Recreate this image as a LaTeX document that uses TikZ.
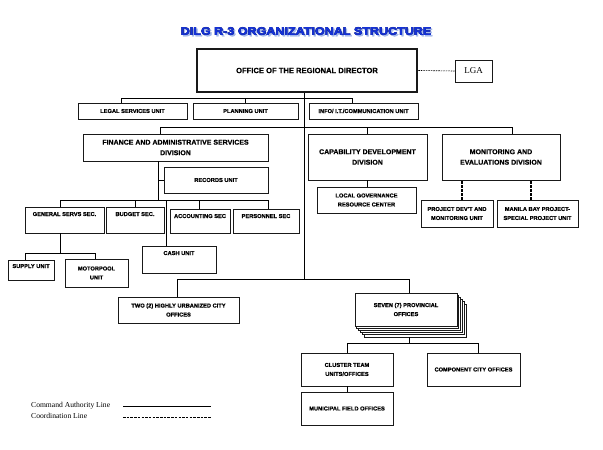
\documentclass[tikz,border=0pt]{standalone}
\usepackage{fontspec}
\usepackage{graphicx}
\setmainfont{Liberation Serif}
\setsansfont{Liberation Sans}
\newfontfamily\heavyfont{Liberation Sans Bold}[FakeBold=0.7]
\newfontfamily\ttlinner{Liberation Sans Bold}[FakeBold=1.5]
\newfontfamily\ttlouter{Liberation Sans Bold}[FakeBold=3.2]
\usetikzlibrary{positioning,calc}
\definecolor{ttlblue}{RGB}{20,50,215}
\definecolor{ttlnavy}{RGB}{15,20,90}
\definecolor{ttlshade}{RGB}{165,185,235}

\begin{document}
\begin{tikzpicture}[x=1pt, y=-1pt,
    unit/.style={rectangle, draw=black!90, line width=0.7pt, inner sep=0pt, align=center, font=\heavyfont\fontsize{5.7}{9}\selectfont},
    div/.style={unit, font=\heavyfont\fontsize{7}{10.5}\selectfont},
    topunit/.style={unit, text height=#1},
    cmdline/.style={line width=0.7pt},
    coordline/.style={line width=0.7pt, dash pattern=on 2.5pt off 1.2pt}]

    \useasboundingbox (0,0) rectangle (603,450);

    % title
    \node (ttlshadow) [text=ttlshade, font=\ttlouter\fontsize{11}{13}\selectfont] at (307.5,32.5) {\scalebox{1.14}[1]{DILG R-3 ORGANIZATIONAL STRUCTURE}};
    \node (ttledge) [text=ttlnavy, font=\ttlouter\fontsize{11}{13}\selectfont] at (306,31) {\scalebox{1.14}[1]{DILG R-3 ORGANIZATIONAL STRUCTURE}};
    \node (ttl) [text=ttlblue, font=\ttlinner\fontsize{11}{13}\selectfont] at (306,31) {\scalebox{1.14}[1]{DILG R-3 ORGANIZATIONAL STRUCTURE}};

    \node (ord) [unit, line width=2.5pt, minimum width=220, minimum height=43, font=\heavyfont\fontsize{7.6}{9}\selectfont] at (307,70.5) {OFFICE OF THE REGIONAL DIRECTOR};
    \node (lga) [rectangle, draw=black!90, line width=0.6pt, minimum width=37, minimum height=22, inner sep=0pt, font=\fontsize{9}{10}\selectfont] at (473.5,71) {LGA};
    \draw [dash pattern=on 1.5pt off 1pt, line width=0.6pt] (ord.east) -- (lga.west);

    \node (legal) [unit, minimum width=109, minimum height=16] at (132.5,111) {LEGAL SERVICES UNIT};
    \node (plan) [unit, minimum width=105, minimum height=16] at (245.5,111) {PLANNING UNIT};
    \node (info) [unit, minimum width=109, minimum height=16] at (363.5,111) {INFO/ I.T./COMMUNICATION UNIT};

    \coordinate (b1l) at (121,98);
    \coordinate (b1r) at (352,98);
    \draw [cmdline] (b1l) -- (b1r);
    \draw [cmdline] (b1l) -- (b1l |- legal.north);
    \draw [cmdline] (plan.north) -- (plan.north |- b1l);
    \draw [cmdline] (b1r) -- (b1r |- info.north);

    \coordinate (spine) at (304,279);
    \draw [cmdline] (ord.south -| spine) -- (spine);

    % divisions
    \node (fin) [div, minimum width=185, minimum height=27] at (175.5,147.5) {FINANCE AND ADMINISTRATIVE SERVICES\\DIVISION};
    \node (cap) [div, minimum width=119, minimum height=46] at (367.5,157) {CAPABILITY DEVELOPMENT\\DIVISION};
    \node (mon) [div, minimum width=118, minimum height=46] at (501,157) {MONITORING AND\\EVALUATIONS DIVISION};

    \coordinate (b2l) at (160,127);
    \coordinate (b2r) at (512,127);
    \draw [cmdline] (b2l) -- (b2r);
    \draw [cmdline] (b2l) -- (b2l |- fin.north);
    \draw [cmdline] (cap.north) -- (cap.north |- b2l);
    \draw [cmdline] (b2r) -- (b2r |- mon.north);

    \node (lgrc) [unit, minimum width=99, minimum height=26] at (366.5,200) {LOCAL GOVERNANCE\\RESOURCE CENTER};
    \draw [cmdline] (cap.south) -- (cap.south |- lgrc.north);

    \node (pdev) [unit, minimum width=72, minimum height=27] at (457,213.5) {PROJECT DEV'T AND\\MONITORING UNIT};
    \node (mbay) [unit, minimum width=81, minimum height=27] at (537.5,213.5) {MANILA BAY PROJECT-\\SPECIAL PROJECT UNIT};
    \draw [coordline, line width=1.4pt, dash pattern=on 2.5pt off 1.5pt] ([xshift=5pt]pdev.north) -- ([xshift=5pt]pdev.north |- mon.south);
    \draw [coordline, line width=1.4pt, dash pattern=on 2.5pt off 1.5pt] ([xshift=-6.5pt]mbay.north) -- ([xshift=-6.5pt]mbay.north |- mon.south);

    % finance sections
    \node (rec) [unit, minimum width=104, minimum height=26] at (216,180) {RECORDS UNIT};
    \coordinate (fj) at (158,200);
    \draw [cmdline] (fin.south -| fj) -- (fj);
    \draw [cmdline] (rec.west) -- (rec.west -| fj);

    \node (gen) [topunit=9pt, text depth=17pt, minimum width=79] at (64.5,220) {GENERAL SERVS SEC.};
    \node (bud) [topunit=9pt, text depth=17pt, minimum width=58] at (135,220) {BUDGET SEC.};
    \node (acc) [topunit=9pt, text depth=15pt, minimum width=60] at (200,221) {ACCOUNTING SEC};
    \node (per) [topunit=9pt, text depth=15pt, minimum width=66] at (266,221) {PERSONNEL SEC};
    \node (cash) [topunit=9pt, text depth=18pt, minimum width=74] at (179,259.5) {CASH UNIT};

    \coordinate (b3l) at (60,200);
    \coordinate (b3r) at (268,200);
    \coordinate (cj) at (166,200);
    \draw [cmdline] (b3l) -- (b3r);
    \draw [cmdline] (b3l) -- (b3l |- gen.north);
    \draw [cmdline] (bud.north) -- (bud.north |- b3l);
    \draw [cmdline] ([xshift=-1pt]acc.north) -- ([xshift=-1pt]acc.north |- b3l);
    \draw [cmdline] (b3r) -- (b3r |- per.north);
    \draw [cmdline] (cj) -- (cj |- cash.north);

    \node (sup) [topunit=8pt, text depth=12pt, minimum width=46] at (31,270) {SUPPLY UNIT};
    \node (mot) [unit, minimum width=63, minimum height=28] at (96.5,273) {MOTORPOOL\\UNIT};
    \coordinate (gj) at (60,253);
    \coordinate (b4l) at (25,253);
    \coordinate (b4r) at (95,253);
    \draw [cmdline] (gen.south -| gj) -- (gj);
    \draw [cmdline] (b4l) -- (b4r);
    \draw [cmdline] (b4l) -- (b4l |- sup.north);
    \draw [cmdline] (b4r) -- (b4r |- mot.north);

    % field offices
    \node (two) [unit, minimum width=121, minimum height=26] at (178.5,310) {TWO (2) HIGHLY URBANIZED CITY\\OFFICES};
    \coordinate (sevenc) at (406,309.5);
    \foreach \k in {5,4,3,2,1}
        \node (seven\k) [unit, fill=white, minimum width=102, minimum height=33] at ($(sevenc)+(1.8*\k,2.2*\k)$) {};
    \node (seven) [unit, fill=white, minimum width=102, minimum height=33] at (sevenc) {SEVEN (7) PROVINCIAL\\OFFICES};

    \coordinate (b5l) at (177,279);
    \coordinate (b5r) at (409,279);
    \draw [cmdline] (b5l) -- (b5r);
    \draw [cmdline] (b5l) -- (b5l |- two.north);
    \draw [cmdline] (b5r) -- (b5r |- seven.north);

    \node (clus) [unit, minimum width=92, minimum height=33] at (347,369.5) {CLUSTER TEAM\\UNITS/OFFICES};
    \node (mun) [unit, minimum width=92, minimum height=33] at (347,408.5) {MUNICIPAL FIELD OFFICES};
    \node (comp) [unit, minimum width=93, minimum height=33] at (473.5,369.5) {COMPONENT CITY OFFICES};

    \coordinate (sj) at (409,343);
    \coordinate (b6l) at (347,343);
    \coordinate (b6r) at (478,343);
    \draw [cmdline] (seven5.south -| sj) -- (sj);
    \draw [cmdline] (b6l) -- (b6r);
    \draw [cmdline] (b6l) -- (b6l |- clus.north);
    \draw [cmdline] (b6r) -- (b6r |- comp.north);
    \draw [cmdline] (clus.south) -- (mun.north);

    % legend
    \node (cmdtxt) [anchor=west, inner sep=0pt, font=\fontsize{7.6}{9}\selectfont] at (31,406) {Command Authority Line};
    \node (cortxt) [anchor=west, inner sep=0pt, font=\fontsize{7.6}{9}\selectfont] at (31,416) {Coordination Line};
    \coordinate (cmda) at (123,406);
    \coordinate (cmdb) at (211,406);
    \coordinate (cora) at (123,417);
    \coordinate (corb) at (211,417);
    \draw [cmdline] (cmda) -- (cmdb);
    \draw [coordline] (cora) -- (corb);
\end{tikzpicture}
\end{document}
